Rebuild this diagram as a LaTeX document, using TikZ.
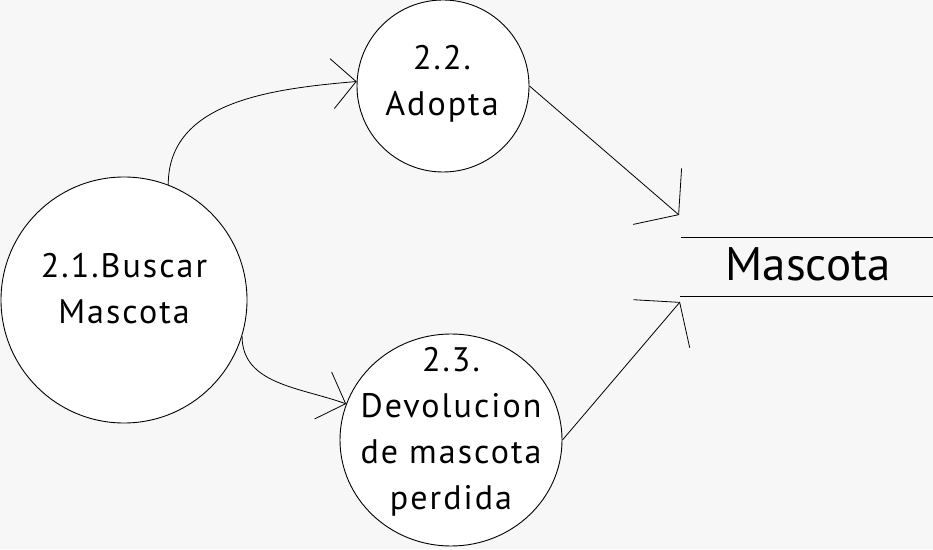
\documentclass[tikz,border=0pt]{standalone}
\usepackage{fontspec}
\setmainfont{PT Sans}
\newfontfamily\procfont[LetterSpace=6]{PT Sans}
\usetikzlibrary{arrows.meta,shapes.geometric}
\definecolor{bgpaper}{RGB}{247,247,247}

\begin{document}
\begin{tikzpicture}[x=1pt,y=1pt,
    proc/.style={circle,draw,fill=white,line width=0.9pt,inner sep=0pt},
    proctext/.style={align=center,font=\procfont\fontsize{34}{46}\selectfont},
    flow/.style={line width=0.8pt,-{Straight Barb[length=24pt,width=50pt]}},
    storeflow/.style={line width=0.8pt,-{Straight Barb[length=28pt,width=74pt]}}]
\fill[bgpaper] (0,0) rectangle (933,549);
\useasboundingbox (0,0) rectangle (933,549);
% processes
\node[proc,minimum size=246pt] (c21) at (124,249) {};
\node[proctext] (t21) at (124,260) {2.1.Buscar\\Mascota};
\node[proc,minimum size=172pt] (c22) at (443,463) {};
\node[proctext] (t22) at (442,465) {2.2.\\Adopta};
\node[proc,ellipse,minimum width=222pt,minimum height=212pt] (c23) at (451,109) {};
\node[proctext] (t23) at (451,117) {2.3.\\Devolucion\\de mascota\\perdida};
% data store
\node[font=\fontsize{47}{56}\selectfont,anchor=base] (store) at (808,268) {Mascota};
\coordinate (storetop) at (681,312);
\coordinate (storebot) at (680,253);
\draw[line width=0.9pt] (storetop) -- (933,312);
\draw[line width=0.9pt] (storebot) -- (933,253);
\coordinate (s1) at (679,334);
\coordinate (s2) at (680,247);
% flows
\draw[flow] (c21.69) to[out=90,in=185] (c22.177);
\draw[flow] (c21.343) to[out=270,in=160] (c23.161);
\draw[storeflow] (c22.east) -- (s1);
\draw[storeflow] (c23.east) -- (s2);
\end{tikzpicture}
\end{document}
